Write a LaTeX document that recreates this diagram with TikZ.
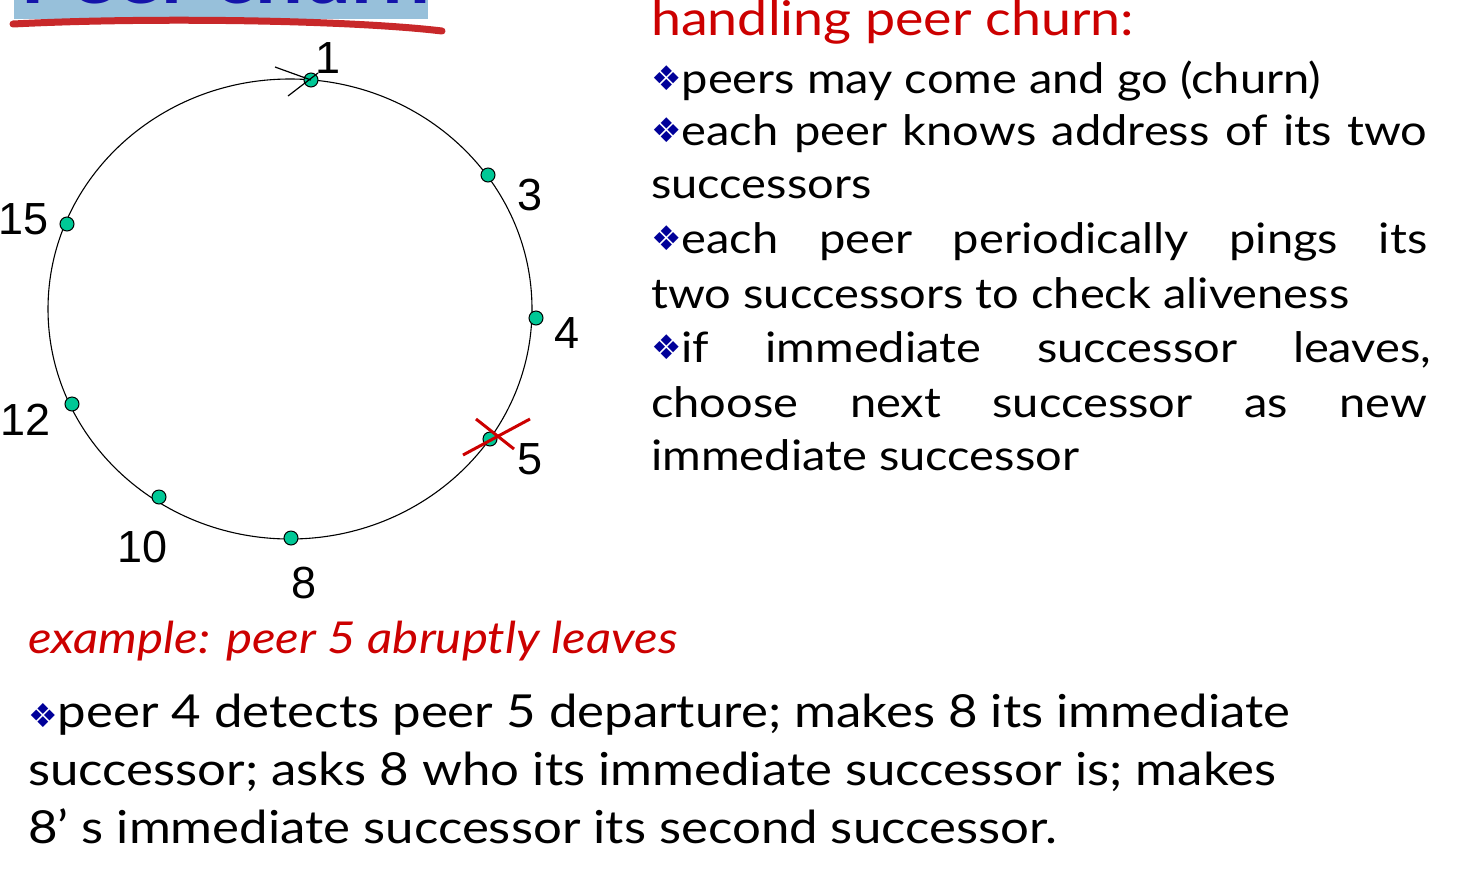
\documentclass[tikz,border=0pt]{standalone}
\usepackage{fontspec}
\setmainfont{Lato}[FakeStretch=1.12]
\newfontfamily\dejavu{DejaVu Sans}
\newfontfamily\arialf{Liberation Sans}
\definecolor{redtxt}{RGB}{204,0,0}
\definecolor{bulblue}{RGB}{0,0,153}
\definecolor{teal}{RGB}{0,200,150}
\definecolor{titlebg}{RGB}{151,192,218}
\definecolor{titleblue}{RGB}{20,20,170}
\definecolor{underred}{RGB}{200,40,42}
\newcommand{\bul}{{\color{bulblue}\dejavu\fontsize{34}{34}\selectfont\raisebox{3pt}{\char"2756}}}
\newcommand{\bulb}{{\color{bulblue}\dejavu\fontsize{33}{33}\selectfont\char"2756}}
\tikzset{
  peer/.style={circle, draw=black, fill=teal, line width=1pt, minimum size=14pt, inner sep=0pt},
  lbl/.style={font=\arialf\fontsize{45}{45}\selectfont, inner sep=0pt},
  rtxt/.style={anchor=base west, inner sep=0pt, font=\fontsize{42}{50}\selectfont},
  btxt/.style={anchor=base west, inner sep=0pt, font=\fontsize{45.5}{54}\selectfont},
}
\begin{document}
\begin{tikzpicture}[x=1pt,y=-1pt]
\useasboundingbox (0,0) rectangle (1461,879);
% title (cut off)
\fill[titlebg] (14,-40) rectangle (428,19);
\node[anchor=base west, inner sep=0pt, text=titleblue, font=\bfseries\fontsize{76}{76}\selectfont] (title) at (20,3) {Peer churn};
\draw[underred, line width=7pt, line cap=round] (13,24) .. controls (150,17) and (350,20) .. (442,31);
% ring
\draw[line width=1.1pt] (290,309) ellipse [x radius=242, y radius=230];
\node[peer] (n1) at (311,80) {};
\node[peer] (n3) at (488,175) {};
\node[peer] (n4) at (536,318) {};
\node[peer] (n5) at (490,439) {};
\node[peer] (n8) at (291,538) {};
\node[peer] (n10) at (159,497) {};
\node[peer] (n12) at (72,404) {};
\node[peer] (n15) at (67,224) {};
\node[lbl] (l1) at (328,58) {1};
\node[lbl] (l3) at (530,195) {3};
\node[lbl] (l4) at (567,333) {4};
\node[lbl] (l5) at (530,459) {5};
\node[lbl] (l8) at (304,583) {8};
\node[lbl] (l10) at (143,547) {10};
\node[lbl] (l12) at (26,420) {12};
\node[lbl] (l15) at (24,219) {15};
% arrowhead at node 1
\coordinate (a1) at (275,67);
\coordinate (a2) at (288,96);
\coordinate (a3) at (318,73);
\draw[line width=1.2pt] (a1) -- (n1.center);
\draw[line width=1.2pt] (a2) -- (a3);
% cross at node 5
\coordinate (c1) at (463,455);
\coordinate (c2) at (530,419);
\coordinate (c3) at (476,419);
\coordinate (c4) at (514,449);
\draw[redtxt, line width=3pt] (c1) -- (c2);
\draw[redtxt, line width=3pt] (c3) -- (c4);
% right text
\node[rtxt, text=redtxt, font=\fontsize{48}{50}\selectfont] (h0) at (651,35) {handling peer churn:};
\node[rtxt] (r1) at (651,93) {\bul peers may come and go (churn)};
\node[rtxt] (r2) at (651,145) {\makebox[776pt][s]{\bul each peer knows address of its two}};
\node[rtxt] (r3) at (651,198) {successors};
\node[rtxt] (r4) at (651,253) {\makebox[776pt][s]{\bul each peer periodically pings its}};
\node[rtxt] (r5) at (651,308) {two successors to check aliveness};
\node[rtxt] (r6) at (651,362) {\makebox[780pt][s]{\bul if immediate successor leaves,}};
\node[rtxt] (r7) at (651,417) {\makebox[776pt][s]{choose next successor as new}};
\node[rtxt] (r8) at (651,470) {immediate successor};
% bottom text
\node[btxt, text=redtxt, font=\itshape\fontsize{44}{54}\selectfont] (ex) at (28,653) {example: peer 5 abruptly leaves};
\node[btxt] (b1) at (28,727) {\bulb peer 4 detects peer 5 departure; makes 8 its immediate};
\node[btxt] (b2) at (28,785) {successor; asks 8 who its immediate successor is; makes};
\node[btxt] (b3) at (28,843) {8’ s immediate successor its second successor.};
\end{tikzpicture}
\end{document}
